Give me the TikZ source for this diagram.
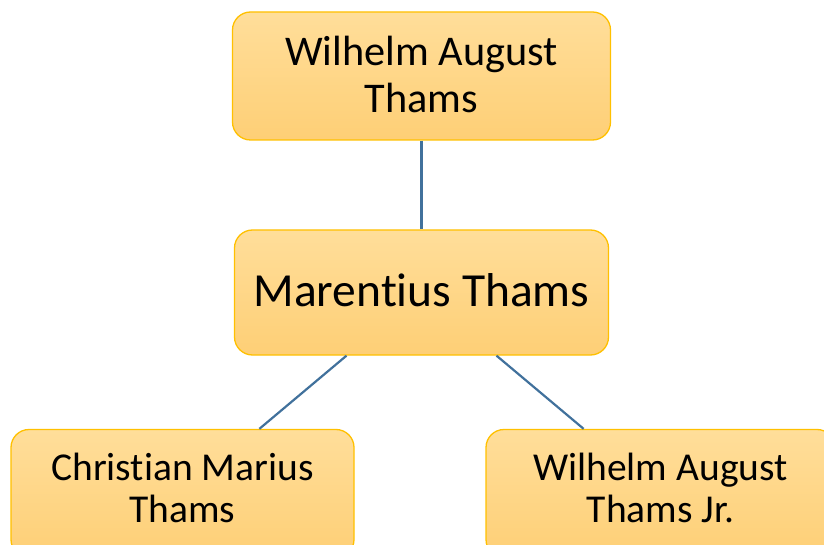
\documentclass[tikz,border=0pt]{standalone}
\usepackage{fontspec}
\setmainfont{Carlito}[Ligatures=CommonOff]
\usetikzlibrary{positioning}
\definecolor{boxtop}{RGB}{255,222,154}
\definecolor{boxbottom}{RGB}{254,207,118}
\definecolor{boxline}{RGB}{255,192,0}
\definecolor{linkblue}{RGB}{65,113,156}

\begin{document}
\begin{tikzpicture}[x=1pt,y=-1pt,
	person/.style={draw=boxline,line width=1.3pt,rounded corners=18pt,top color=boxtop,bottom color=boxbottom,align=center,minimum height=128pt,inner sep=0pt},
	link/.style={draw=linkblue,line width=2.2pt}]
	\useasboundingbox (0,0) rectangle (824,545);
	\clip (0,0) rectangle (824,545);
	%\draw[help lines] (0,0) grid[step=50] (824,545);
	\node[person,minimum width=378pt,text depth=3pt,font=\fontsize{42.3}{46.5}\selectfont] (grandfather) at (421.5,76) {Wilhelm August\\Thams};
	\node[person,minimum width=374pt,minimum height=125pt,text depth=5pt,font=\fontsize{47.5}{52}\selectfont] (marentius) at (421.5,292.5) {Marentius Thams};
	\node[person,minimum width=343pt,text depth=12pt,font=\fontsize{39.5}{42}\selectfont] (christian) at (182.5,493.5) {Christian Marius\\Thams};
	\node[person,minimum width=349pt,text depth=12pt,font=\fontsize{39.5}{42}\selectfont] (wilhelmjr) at (660.5,493.5) {Wilhelm August\\Thams Jr.};
	\draw[link] (grandfather) -- (marentius);
	\draw[link] (marentius) -- (christian);
	\draw[link] (marentius) -- (wilhelmjr);
\end{tikzpicture}
\end{document}
